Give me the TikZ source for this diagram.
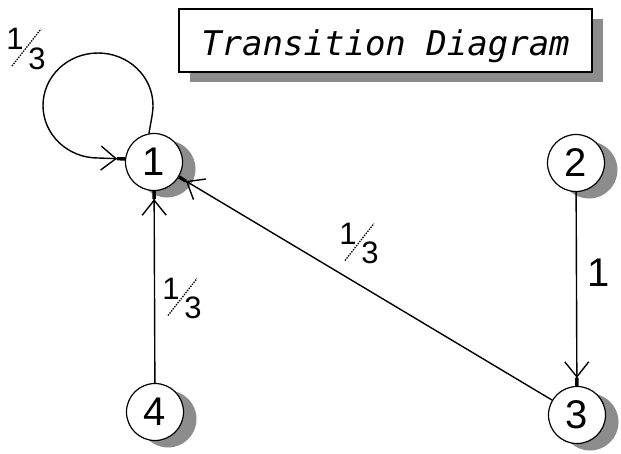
\documentclass[tikz,border=0pt]{standalone}
\usepackage{fontspec}
\setmainfont{Liberation Sans}
\newfontfamily\titlefont{DejaVu Sans Mono}
\usetikzlibrary{arrows.meta,shadows}
\begin{document}
\begin{tikzpicture}[x=1pt,y=-1pt,
  state/.style={circle, draw, line width=1.2pt, fill=white, minimum size=57pt, inner sep=0pt,
    font=\fontsize{40}{40}\selectfont,
    drop shadow={shadow xshift=13pt, shadow yshift=-7pt, opacity=1, fill=black!45}},
  titlebox/.style={draw, line width=2pt, fill=white, minimum width=413pt, minimum height=63pt,
    inner sep=0pt, text height=29pt, text depth=0pt,
    font=\titlefont\itshape\fontsize{34}{34}\selectfont,
    drop shadow={shadow xshift=11pt, shadow yshift=-10pt, opacity=1, fill=black!45}},
  conn/.style={line width=1.4pt,
    -{Straight Barb[length=15pt,width=24pt,sep=0pt] Rectangle[length=8pt,width=3.4pt,sep=0pt]}},
  biglab/.style={inner sep=0pt, font=\fontsize{40}{40}\selectfont},
  fdig/.style={inner sep=0pt, font=\fontsize{31}{31}\selectfont},
  fslash/.style={line width=1.3pt, dash pattern=on 1.4pt off 1.2pt},
  third/.pic={
    \node[fdig] (-one) at (0,0) {1};
    \node[fdig] (-three) at (22,19.5) {3};
    \draw[fslash] (-3,27) -- (26,-10);
  }
]
\useasboundingbox (0,0) rectangle (621,453);

\node[titlebox] (title) at (385.5,40.5) {Transition Diagram};

\node[state] (n1) at (154,162) {1};
\node[state] (n2) at (576,163) {2};
\node[state] (n3) at (577,415) {3};
\node[state] (n4) at (155,412) {4};

% self loop on 1
\draw[conn] (n1.100) .. controls (151,121) and (153,113) .. (153,105.5)
  .. controls (153,76.5) and (128.4,53) .. (98,53)
  .. controls (67.6,53) and (43,76.5) .. (43,105.5)
  .. controls (43,134.5) and (67.6,158) .. (98,158) -- (n1.174);

\draw[conn] (n4) -- (n1);
\draw[conn] (n3) -- (n1);
\draw[conn] (n2) -- (n3);

% labels
\pic (fl) at (15,39) {third};
\pic (fa) at (348,233.5) {third};
\pic (fb) at (171,288.5) {third};
\node[biglab] (l23) at (599,273) {1};
\end{tikzpicture}
\end{document}
